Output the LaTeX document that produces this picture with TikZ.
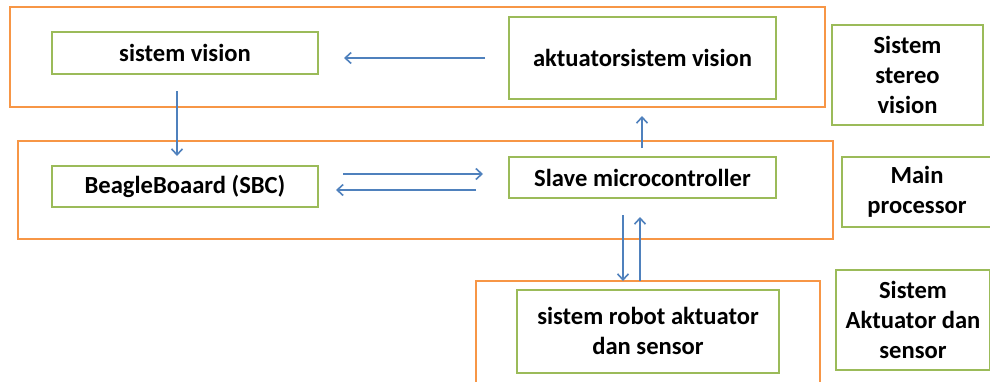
\documentclass[tikz,border=0pt]{standalone}
\usepackage{fontspec}
\setmainfont{Carlito}
\usetikzlibrary{arrows.meta}
\definecolor{obox}{HTML}{F79646}
\definecolor{gbox}{HTML}{9BBB59}
\definecolor{arr}{HTML}{4F81BD}
\tikzset{
  orangebox/.style={draw=obox, line width=2pt, inner sep=0pt},
  greenbox/.style={draw=gbox, line width=2pt, inner sep=0pt, align=center,
    font=\fontsize{24.6}{29.8}\selectfont\bfseries, text=black},
  arrowline/.style={draw=arr, line width=1.6pt, -{Straight Barb[length=6pt,width=11pt]}}
}
\begin{document}
\begin{tikzpicture}[x=1pt,y=-1pt]
\useasboundingbox (0,0) rectangle (990,381);
\clip (0,0) rectangle (990,381);
\fill[white] (0,0) rectangle (990,381);
% orange group boxes
\node[orangebox, minimum width=815pt, minimum height=100pt] (o1) at (417.5,57) {};
\node[orangebox, minimum width=815pt, minimum height=98pt] (o2) at (425.5,190) {};
\node[orangebox, minimum width=344pt, minimum height=104pt] (o3) at (648,333) {};
% green boxes
\node[greenbox, minimum width=266pt, minimum height=42pt] (sv) at (185,53) {sistem vision};
\node[greenbox, minimum width=267pt, minimum height=82pt] (akt) at (642.5,58) {aktuatorsistem vision};
\node[greenbox, minimum width=151pt, minimum height=100pt] (ssv) at (907.5,75) {Sistem\\stereo\\vision};
\node[greenbox, minimum width=266pt, minimum height=41pt] (bb) at (185,186.5) {BeagleBoaard (SBC)};
\node[greenbox, minimum width=267pt, minimum height=41pt] (slave) at (642.5,177.5) {Slave microcontroller};
\node[greenbox, minimum width=150pt, minimum height=70pt] (mp) at (917,192) {Main\\processor};
\node[greenbox, minimum width=262pt, minimum height=83pt] (rob) at (648,331) {sistem robot aktuator\\dan sensor};
\node[greenbox, minimum width=154pt, minimum height=100pt] (sad) at (913,320) {Sistem\\Aktuator dan\\sensor};
% arrow end points
\coordinate (a1s) at (485,58);  \coordinate (a1e) at (344,58);
\coordinate (a2s) at (177,91);  \coordinate (a2e) at (177,156);
\coordinate (a3s) at (343,174); \coordinate (a3e) at (483,174);
\coordinate (a4s) at (476,190); \coordinate (a4e) at (336,190);
\coordinate (a5s) at (642,148); \coordinate (a5e) at (642,116);
\coordinate (a6s) at (623,215); \coordinate (a6e) at (623,281);
\coordinate (a7s) at (640,281); \coordinate (a7e) at (640,217);
\draw[arrowline] (a1s) -- (a1e);
\draw[arrowline] (a2s) -- (a2e);
\draw[arrowline] (a3s) -- (a3e);
\draw[arrowline] (a4s) -- (a4e);
\draw[arrowline] (a5s) -- (a5e);
\draw[arrowline] (a6s) -- (a6e);
\draw[arrowline] (a7s) -- (a7e);
\end{tikzpicture}
\end{document}
